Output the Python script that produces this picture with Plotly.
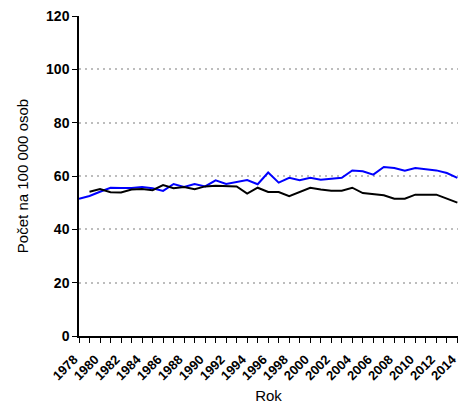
import plotly.graph_objects as go

years_blue = list(range(1978, 2015))
blue = [51.5, 52.5, 54.1, 55.6, 55.5, 55.5, 55.9, 55.4, 54.4, 57.0,
        55.9, 57.0, 56.1, 58.4, 57.0, 57.8, 58.5, 56.9, 61.3, 57.5,
        59.3, 58.4, 59.3, 58.6, 59.0, 59.3, 62.1, 61.8, 60.5, 63.4,
        63.0, 62.0, 63.0, 62.5, 62.1, 61.1, 59.3]

years_black = list(range(1979, 2015))
black = [54.1, 55.1, 53.9, 53.8, 54.9, 55.1, 54.7, 56.6, 55.4, 55.9,
         55.0, 56.1, 56.3, 56.3, 56.1, 53.4, 55.6, 54.0, 54.0, 52.4,
         54.0, 55.6, 54.9, 54.5, 54.5, 55.6, 53.6, 53.1, 52.8, 51.5,
         51.5, 53.0, 53.0, 53.0, 51.5, 50.0]

y_ticks = [0, 20, 40, 60, 80, 100, 120]
x_labels = list(range(1978, 2015, 2))

fig = go.Figure()
fig.add_trace(go.Scatter(x=years_blue, y=blue, mode="lines",
                         line=dict(color="#0000ff", width=2), showlegend=False))
fig.add_trace(go.Scatter(x=years_black, y=black, mode="lines",
                         line=dict(color="#000000", width=2), showlegend=False))

fig.update_layout(
    width=458, height=408,
    margin=dict(l=79, r=0, t=16, b=72, autoexpand=False),
    plot_bgcolor="white", paper_bgcolor="white",
    font=dict(family="Liberation Sans, Arial, sans-serif", color="black"),
)
fig.update_xaxes(
    range=[1978, 2014.06],
    tickvals=x_labels, ticktext=[str(v) for v in x_labels],
    tickangle=-45,
    tickfont=dict(size=13, weight="bold"),
    ticklabelshift=-5, ticklabelstandoff=4, ticklabeloverflow="allow",
    ticks="outside", ticklen=5, tickcolor="black", tickwidth=1,
    minor=dict(ticks="outside", dtick=1, tick0=1978, ticklen=5, tickcolor="black", tickwidth=1),
    showline=True, linecolor="black", linewidth=1.5,
    showgrid=False, zeroline=False, automargin=False,
    title=dict(text="Rok", font=dict(size=15), standoff=8),
)
fig.update_yaxes(
    range=[0, 120],
    tickvals=y_ticks,
    tickfont=dict(size=14, weight="bold"),
    ticks="outside", ticklen=5, tickcolor="black", tickwidth=1,
    showline=True, linecolor="black", linewidth=1.5,
    showgrid=True, gridcolor="#bdbdbd", griddash="2px,4px", gridwidth=1.5,
    zeroline=False, automargin=False,
    title=dict(text="Počet na 100 000 osob", font=dict(size=15), standoff=14),
)

fig.write_html("out.html", config={"displayModeBar": False},
               post_script="document.body.style.margin='0';document.body.style.padding='0';")
